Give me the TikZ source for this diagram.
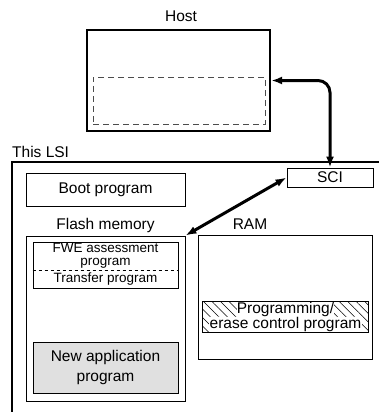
\documentclass[tikz,border=0pt]{standalone}
\usepackage{fontspec}
\setmainfont{Liberation Sans}
\usetikzlibrary{arrows.meta,patterns.meta}

\begin{document}
\begin{tikzpicture}[x=1pt,y=-1pt,
  font=\fontsize{15.5}{15}\selectfont,
  box/.style={draw,line width=0.9pt,inner sep=0pt,align=center},
  lbl/.style={anchor=base,inner sep=0pt},
  bigarrow/.style={line width=3pt,{Latex[length=11pt,width=8pt]}-{Latex[length=11pt,width=8pt]}}]
\path[use as bounding box] (0,0) rectangle (379,412);
% host
\node[box,line width=2.2pt,minimum width=183pt,minimum height=101pt] (host) at (178.5,80.5) {};
\node[lbl] (hostlbl) at (181,22) {Host};
\node[draw=black!70,dash pattern=on 6pt off 4pt,line width=0.9pt,inner sep=0pt,
  minimum width=172pt,minimum height=47pt] (hostarea) at (179,100.5) {};
% this LSI
\draw[line width=2pt] (379,162) -- (12,162) -- (12,412);
\node[lbl,anchor=base west] (lsilbl) at (12,157) {This LSI};
\node[box,minimum width=86pt,minimum height=19pt] (sci) at (330,177.5) {SCI};
\node[box,minimum width=159pt,minimum height=33pt] (boot) at (105.5,189.5) {Boot program};
% flash memory
\node[lbl] (flashlbl) at (105.5,229) {Flash memory};
\node[box,minimum width=159pt,minimum height=165pt] (flash) at (105.5,318.5) {};
\node[box,minimum width=145pt,minimum height=46pt] (fwe) at (105.5,265) {};
\node[align=center,inner sep=0pt,font=\fontsize{13.5}{13}\selectfont] (fwetxt) at (105.5,255.5) {FWE assessment\\program};
\node[inner sep=0pt,font=\fontsize{13.5}{13}\selectfont] (transfer) at (105.5,279) {Transfer program};
\draw[dashed,line width=0.9pt] ([yshift=-5pt]fwe.west) -- ([yshift=-5pt]fwe.east);
\node[box,fill=black!12,minimum width=145pt,minimum height=51pt,font=\fontsize{15.5}{20}\selectfont] (newapp) at (105.5,367.5) {New application\\program};
% RAM
\node[lbl] (ramlbl) at (250,229) {RAM};
\node[box,minimum width=174pt,minimum height=124pt] (ram) at (285,297) {};
\node[inner sep=0pt,minimum width=165pt,minimum height=30pt,
  pattern={Lines[angle=-45,distance=6pt,line width=0.5pt]}] (pec) at (285.5,317) {};
\node[fill=white,inner sep=0.3pt] (pec1) at (285.5,309.5) {Programming/};
\node[fill=white,inner sep=0.3pt] (pec2) at (285.5,324.5) {erase control program};
\draw[line width=0.9pt] (pec.north west) rectangle (pec.south east);
% transfer paths
\draw[bigarrow,rounded corners=12pt] (host.east) -| (sci.north);
\draw[bigarrow] (flash.north east) -- (sci.west);
\end{tikzpicture}
\end{document}
